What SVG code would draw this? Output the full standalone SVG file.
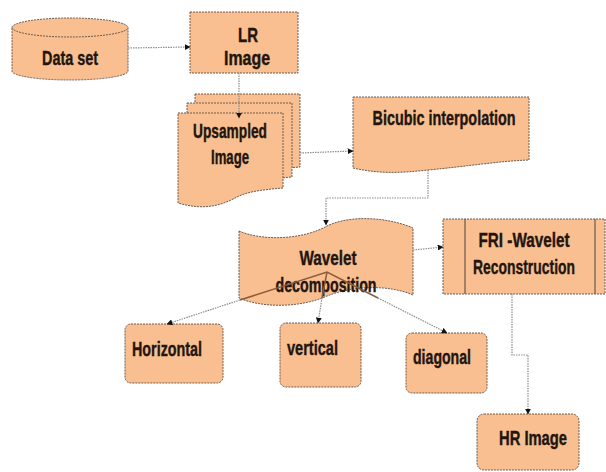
<svg xmlns="http://www.w3.org/2000/svg" width="606" height="472" viewBox="0 0 606 472">
<style>
.n{fill:#F9BF90;stroke:#6b5a50;stroke-width:1;stroke-dasharray:2 1}
.t{font-family:"Liberation Sans",Arial,sans-serif;font-weight:bold;font-size:21px;fill:#22150e;stroke:#22150e;stroke-width:0.4;text-anchor:middle}
.c{fill:none;stroke:#8c8c8c;stroke-width:1.2;stroke-dasharray:1.5 1}
.b{fill:none;stroke:#8a5a3c;stroke-width:1.5}
.l{stroke:#6b5a50;stroke-width:1.2}
</style>
<defs>
<marker id="a" viewBox="0 0 10 10" refX="9" refY="5" markerWidth="5" markerHeight="5" orient="auto">
<path d="M0,0 L10,5 L0,10 z" fill="#111"/>
</marker>
</defs>
<rect width="606" height="472" fill="#fff"/>
<g id="dataset">
<path class="n" d="M12,27.5 A58,9.5 0 0 1 128,27.5 L128,71 A58,9 0 0 1 12,71 Z"/>
<path class="n" fill="none" d="M12,27.5 A58,9.5 0 0 0 128,27.5"/>
<text class="t" x="70" y="65" textLength="56" lengthAdjust="spacingAndGlyphs">Data set</text>
</g>
<g id="lr">
<rect class="n" x="190" y="12" width="108" height="61"/>
<text class="t" x="248" y="42" textLength="20" lengthAdjust="spacingAndGlyphs">LR</text>
<text class="t" x="247" y="65" textLength="46" lengthAdjust="spacingAndGlyphs">Image</text>
</g>
<g id="upsampled">
<path class="n" d="M195,94 H300 V167 C276,169 262,171 252,176 C237,184 222,189 195,182 Z"/>
<path class="n" d="M187,103 H292 V177 C268,179 254,181 244,186 C229,194 214,199 187,192 Z"/>
<path class="n" d="M178,113 H283 V188 C259,190 247,192 237,197 C222,205 205,211 178,203 Z"/>
<text class="t" x="230" y="138" textLength="74" lengthAdjust="spacingAndGlyphs">Upsampled</text>
<text class="t" x="230" y="164" textLength="38" lengthAdjust="spacingAndGlyphs">Image</text>
</g>
<g id="bicubic">
<path class="n" d="M353,97 H529 V160 C500,161 470,166 428,170 C400,173 380,174 353,168 Z"/>
<text class="t" x="444" y="125" textLength="143" lengthAdjust="spacingAndGlyphs">Bicubic interpolation</text>
</g>
<g id="wavelet">
<path class="n" d="M239,231 C262,241 302,240 327,226 C352,214 390,218 413,228 L413,295 C390,285 355,285 327,296 C300,308 262,308 239,298 Z"/>
<text class="t" x="328" y="265" textLength="57" lengthAdjust="spacingAndGlyphs">Wavelet</text>
<text class="t" x="326" y="292" textLength="101" lengthAdjust="spacingAndGlyphs">decomposition</text>
</g>
<g id="fri">
<rect class="n" x="443" y="219" width="162" height="75"/>
<line class="l" x1="465" y1="219" x2="465" y2="294"/>
<line class="l" x1="595" y1="219" x2="595" y2="294"/>
<text class="t" x="524" y="247" textLength="91" lengthAdjust="spacingAndGlyphs">FRI -Wavelet</text>
<text class="t" x="524" y="274" textLength="102" lengthAdjust="spacingAndGlyphs">Reconstruction</text>
</g>
<g id="horizontal">
<rect class="n" x="125" y="324" width="98" height="59" rx="6"/>
<text class="t" x="167" y="356" textLength="70" lengthAdjust="spacingAndGlyphs">Horizontal</text>
</g>
<g id="vertical">
<rect class="n" x="280" y="323" width="81" height="64" rx="6"/>
<text class="t" x="312.5" y="355" textLength="51" lengthAdjust="spacingAndGlyphs">vertical</text>
</g>
<g id="diagonal">
<rect class="n" x="406" y="333" width="81" height="60" rx="6"/>
<text class="t" x="442" y="364" textLength="58" lengthAdjust="spacingAndGlyphs">diagonal</text>
</g>
<g id="hr">
<rect class="n" x="477" y="414" width="102" height="56" rx="7"/>
<text class="t" x="533" y="445" textLength="68" lengthAdjust="spacingAndGlyphs">HR Image</text>
</g>
<g id="connectors">
<path class="c" marker-end="url(#a)" d="M128,48 L190,47"/>
<path class="c" marker-end="url(#a)" d="M239,73 L239,118"/>
<path class="c" marker-end="url(#a)" d="M300,153 L353,151"/>
<path class="c" marker-end="url(#a)" d="M428,170 V198 H326 V225"/>
<path class="c" marker-end="url(#a)" d="M413,250 L443,247"/>
<path class="c" marker-end="url(#a)" d="M240,300 L167,324"/>
<path class="c" marker-end="url(#a)" d="M322,298 L318,323"/>
<path class="c" marker-end="url(#a)" d="M378,298 L447,333"/>
<path class="b" d="M240,300 L327,272 L378,298 M327,272 L322,298"/>
<path class="c" marker-end="url(#a)" d="M512,294 V355 H528 V414"/>
</g>
</svg>
